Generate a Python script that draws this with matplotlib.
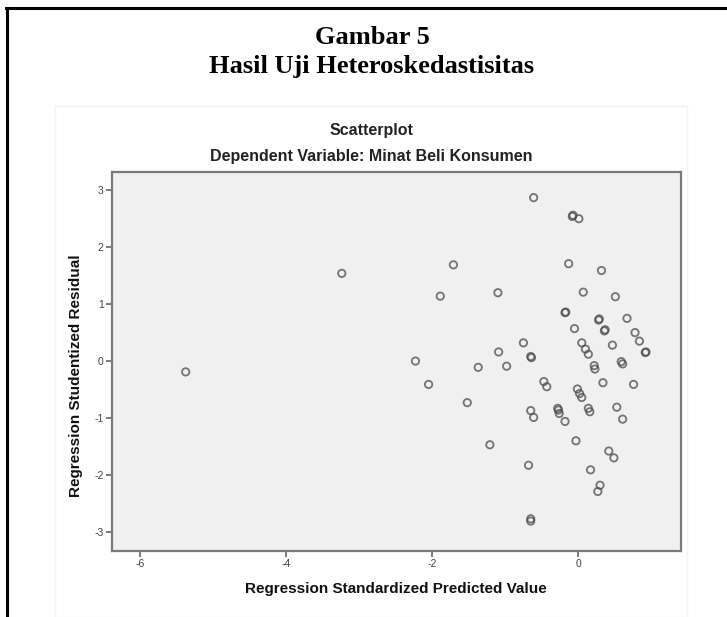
import matplotlib
matplotlib.use("Agg")
import matplotlib.pyplot as plt
from matplotlib.lines import Line2D
from matplotlib.patches import Rectangle

plt.rcParams["axes.unicode_minus"] = False

W, H = 727, 617

# (standardized predicted value, studentized residual)
pred_x = [-5.38, -3.24, -2.23, -2.05, -1.89, -1.71, -1.52, -1.37, -1.21, -1.10,
          -1.09, -0.98, -0.75, -0.68, -0.65, -0.64, -0.65, -0.61, -0.65, -0.65,
          -0.61, -0.47, -0.43, -0.28, -0.27, -0.26, -0.18, -0.18, -0.17, -0.13,
          -0.08, -0.07, 0.01, -0.05, -0.03, -0.01, 0.02, 0.05, 0.05, 0.07,
          0.10, 0.14, 0.14, 0.16, 0.17, 0.22, 0.23, 0.27, 0.28, 0.29,
          0.30, 0.32, 0.34, 0.36, 0.37, 0.42, 0.47, 0.49, 0.51, 0.53,
          0.59, 0.61, 0.61, 0.67, 0.76, 0.78, 0.84, 0.92, 0.93]
resid_y = [-0.19, 1.54, 0.00, -0.41, 1.14, 1.69, -0.73, -0.11, -1.47, 1.20,
           0.16, -0.09, 0.32, -1.83, 0.08, 0.06, -0.87, -0.99, -2.77, -2.81,
           2.87, -0.36, -0.45, -0.83, -0.86, -0.92, -1.06, 0.85, 0.86, 1.71,
           2.54, 2.56, 2.50, 0.57, -1.40, -0.49, -0.57, -0.64, 0.32, 1.21,
           0.21, 0.12, -0.83, -0.89, -1.91, -0.08, -0.14, -2.29, 0.72, 0.74,
           -2.18, 1.59, -0.38, 0.53, 0.55, -1.58, 0.28, -1.70, 1.13, -0.81,
           -0.01, -0.05, -1.02, 0.75, -0.41, 0.50, 0.35, 0.15, 0.16]

x_ticks = [-6, -4, -2, 0]
y_ticks = [-3, -2, -1, 0, 1, 2, 3]

fig = plt.figure(figsize=(W / 100, H / 100), dpi=100)
fig.patch.set_facecolor("white")


def fx(px):
    return px / W


def fy(py):
    return 1 - py / H


# faint outline of the pasted SPSS chart
fig.add_artist(Rectangle((fx(55), fy(617)), fx(687) - fx(55), fy(106) - fy(617),
                         transform=fig.transFigure, fill=False,
                         edgecolor="#f4f4f4", linewidth=1))

# black document frame (top and left only)
fig.add_artist(Line2D([fx(6), 1], [fy(8), fy(8)], transform=fig.transFigure,
                      color="black", linewidth=2.2))
fig.add_artist(Line2D([fx(7), fx(7)], [fy(8), 0], transform=fig.transFigure,
                      color="black", linewidth=2.2))

fig.text(fx(372), fy(44), "Gambar 5", ha="center", va="baseline",
         family="Liberation Serif", fontweight="bold", fontsize=19)
fig.text(fx(372), fy(73), "Hasil Uji Heteroskedastisitas", ha="center", va="baseline",
         family="Liberation Serif", fontweight="bold", fontsize=19)

fig.text(fx(371), fy(135), "Scatterplot", ha="center", va="baseline",
         family="Liberation Sans", fontweight="bold", fontsize=11.5, color="#222222")
fig.text(fx(371), fy(161.5), "Dependent Variable: Minat Beli Konsumen", ha="center",
         va="baseline", family="Liberation Sans", fontweight="bold", fontsize=11.5,
         color="#222222")

ax = fig.add_axes([fx(112), fy(550.7), fx(681) - fx(112), fy(172) - fy(550.7)])
ax.set_facecolor("#f0f0f0")
ax.scatter(pred_x, resid_y, s=28, facecolors="none", edgecolors="#4a4a4a",
           linewidths=1.3, alpha=0.75, zorder=3)

ax.set_xlim(-6.39, 1.41)
ax.set_ylim(-3.33, 3.32)
ax.set_xticks(x_ticks)
ax.set_yticks(y_ticks)
for s in ax.spines.values():
    s.set_color("#7a7a7a")
    s.set_linewidth(1.6)
ax.tick_params(direction="out", length=4, width=1.2, color="#666666",
               labelsize=7.5, labelcolor="#444444", pad=2)
for lab in ax.get_xticklabels() + ax.get_yticklabels():
    lab.set_family("Liberation Sans")

fig.text(fx(396), fy(593), "Regression Standardized Predicted Value", ha="center",
         va="baseline", family="Liberation Sans", fontweight="bold", fontsize=11,
         color="#111111")
fig.text(fx(76), fy(376), "Regression Studentized Residual", ha="center", va="center",
         rotation=90, family="Liberation Sans", fontweight="bold", fontsize=11,
         color="#111111")

fig.savefig("out.png", dpi=100)
